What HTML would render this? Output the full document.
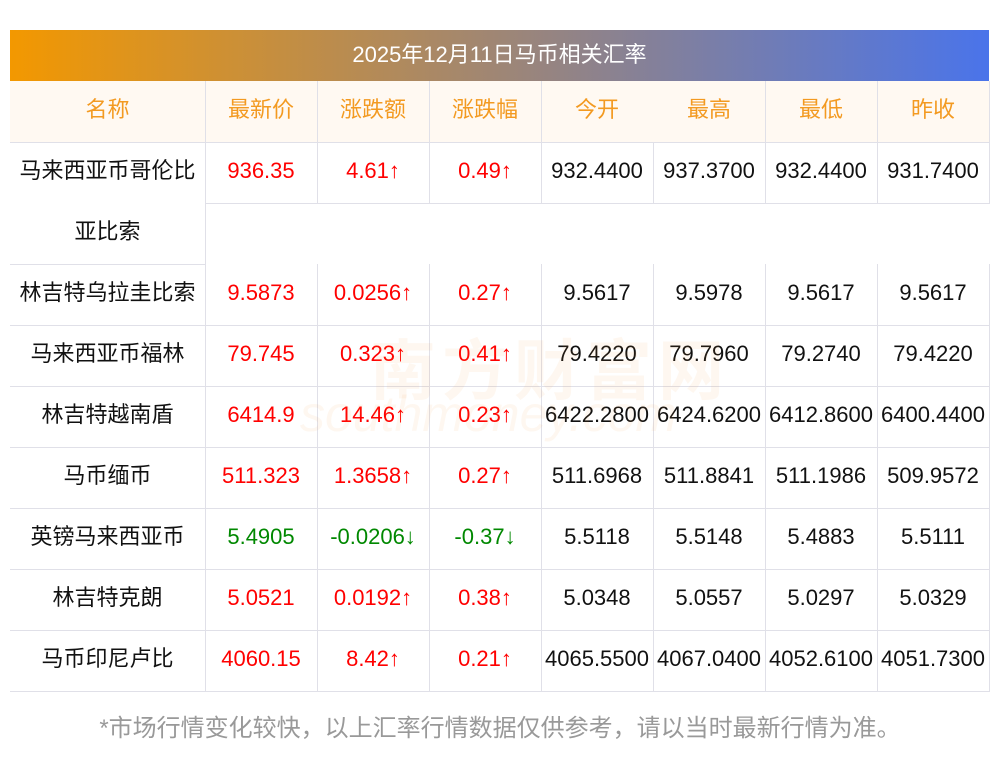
<!DOCTYPE html><html><head><meta charset="utf-8"><style>
body{margin:0;width:1000px;height:757px;background:#fff;position:relative;overflow:hidden;font-family:"Liberation Sans","Noto Sans CJK SC",sans-serif;}
.t{position:absolute;left:10px;top:30px;width:979px;height:51px;background:linear-gradient(90deg,#f39800,#4a74ea);color:#fff;font-size:22px;line-height:49px;text-align:center}
.c{position:absolute;text-align:center;font-size:22px;line-height:57px;height:61px;color:#111;white-space:nowrap}
.h{background:#fff9f2;color:#f39a21}
.hl{position:absolute;height:1px;background:#e0e0e8}
.vl{position:absolute;width:1px;background:#e0e0e8}
.r{color:#f00}.g{color:#080}
</style></head><body>
<div class="t">2025年12月11日马币相关汇率</div>
<div class="h" style="position:absolute;left:10px;top:81px;width:979px;height:61px"></div>
<div id="g"></div>
<div style="position:absolute;left:370px;top:318px;font-size:66px;color:rgba(240,150,60,0.08);font-weight:bold;letter-spacing:6px">南方财富网</div>
<div style="position:absolute;left:300px;top:385px;font-size:50px;color:rgba(240,150,60,0.08);font-style:italic">southmoney.com</div>
<div style="position:absolute;left:0;width:1000px;top:708px;text-align:center;font-size:24px;color:#999;white-space:nowrap">*市场行情变化较快，以上汇率行情数据仅供参考，请以当时最新行情为准。</div>
<script>
var X=[10,205,317,429,541,653,765,877,989];
var H=["名称","最新价","涨跌额","涨跌幅","今开","最高","最低","昨收"];
var D=[
["林吉特乌拉圭比索","9.5873","0.0256↑","0.27↑","9.5617","9.5978","9.5617","9.5617","r"],
["马来西亚币福林","79.745","0.323↑","0.41↑","79.4220","79.7960","79.2740","79.4220","r"],
["林吉特越南盾","6414.9","14.46↑","0.23↑","6422.2800","6424.6200","6412.8600","6400.4400","r"],
["马币缅币","511.323","1.3658↑","0.27↑","511.6968","511.8841","511.1986","509.9572","r"],
["英镑马来西亚币","5.4905","-0.0206↓","-0.37↓","5.5118","5.5148","5.4883","5.5111","g"],
["林吉特克朗","5.0521","0.0192↑","0.38↑","5.0348","5.0557","5.0297","5.0329","r"],
["马币印尼卢比","4060.15","8.42↑","0.21↑","4065.5500","4067.0400","4052.6100","4051.7300","r"]];
var s="";
function cell(i,y,txt,cls){s+='<div class="c '+cls+'" style="left:'+X[i]+'px;width:'+(X[i+1]-X[i])+'px;top:'+y+'px">'+txt+'</div>';}
function hl(x1,x2,y){s+='<div class="hl" style="left:'+x1+'px;width:'+(x2-x1+1)+'px;top:'+y+'px"></div>';}
function vl(x,y1,y2){s+='<div class="vl" style="left:'+x+'px;top:'+y1+'px;height:'+(y2-y1)+'px"></div>';}
for(var i=0;i<8;i++)cell(i,81,H[i],"h");
[205,317,429,541,765,877,989].forEach(function(x){vl(x,81,142)});
hl(10,989,142);
cell(0,142,"马来西亚币哥伦比","");cell(0,203,"亚比索","");
var f=["936.35","4.61↑","0.49↑","932.4400","937.3700","932.4400","931.7400"];
for(var i=1;i<8;i++)cell(i,142,f[i-1],i<4?"r":"");
X.slice(1).forEach(function(x){vl(x,142,203)});vl(205,203,264);
hl(205,989,203);hl(10,205,264);
for(var r=0;r<D.length;r++){var y=264+61*r;
for(var i=0;i<8;i++)cell(i,y,D[r][i],i==0?"":(i<4?D[r][8]:""));
X.slice(1).forEach(function(x){vl(x,y,y+61)});hl(10,989,y+61);}
document.getElementById("g").innerHTML=s;
</script>
</body></html>
